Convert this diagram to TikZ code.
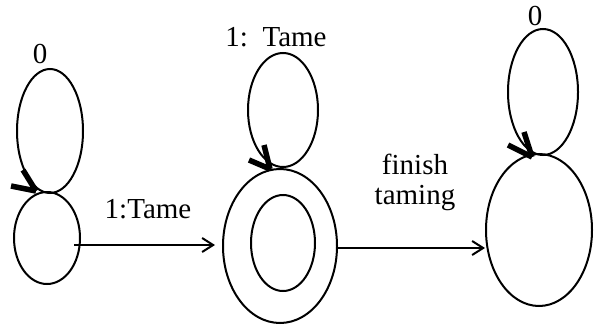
\documentclass[tikz,border=0pt]{standalone}
\usepackage{fontspec}
\setmainfont{Liberation Serif}
\usetikzlibrary{shapes.geometric,arrows.meta}
\tikzset{
  state/.style={ellipse,draw,line width=2pt,inner sep=0pt},
  loope/.style={ellipse,draw,line width=2pt,inner sep=0pt},
  edge/.style={line width=2pt,-{Straight Barb[length=11pt,width=14pt]}},
  tipbar/.style={line width=5.5pt,line cap=butt},
  lab/.style={font=\fontsize{29}{30}\selectfont,anchor=base,inner sep=0pt}
}
\begin{document}
\begin{tikzpicture}[x=1pt,y=-1pt]
\useasboundingbox (0,0) rectangle (594,324);
% states
\node[state,minimum width=66pt,minimum height=92pt] (s0) at (47,238) {};
\node[state,minimum width=114pt,minimum height=154pt] (s1) at (280,246) {};
\node[state,minimum width=64pt,minimum height=96pt] (s1in) at (283,243) {};
\node[state,minimum width=106pt,minimum height=152pt] (s2) at (539,230) {};
% self loops
\node[loope,minimum width=66pt,minimum height=124pt] (l0) at (50,131) {};
\node[loope,minimum width=70pt,minimum height=114pt] (l1) at (283,110) {};
\node[loope,minimum width=70pt,minimum height=126pt] (l2) at (543,92) {};
% loop arrow tips
\coordinate (t0) at (36,191);
\coordinate (t1) at (270,169);
\coordinate (t2) at (532,157);
\draw[tipbar] (23,170) -- (t0);
\draw[tipbar] (11,186) -- (t0);
\draw[tipbar] (264,145) -- (t1);
\draw[tipbar] (249,160) -- (t1);
\draw[tipbar] (524,132) -- (t2);
\draw[tipbar] (508,145) -- (t2);
% edges
\draw[edge] ([xshift=-7pt,yshift=-7pt]s0.east) -- ([xshift=-7pt,yshift=-7pt]s0.east -| s1.west);
\draw[edge] ([yshift=-2pt]s1.east) -- ([yshift=-2pt]s1.east -| s2.west);
% labels
\node[lab] (a0) at (40,63) {0};
\node[lab] (a1) at (148,218) {1:Tame};
\node[lab] (a2) at (276,46) {1:\ \ Tame};
\node[lab] (a3) at (415,174) {finish};
\node[lab] (a4) at (415,204) {taming};
\node[lab] (a5) at (535,25) {0};
\end{tikzpicture}
\end{document}
